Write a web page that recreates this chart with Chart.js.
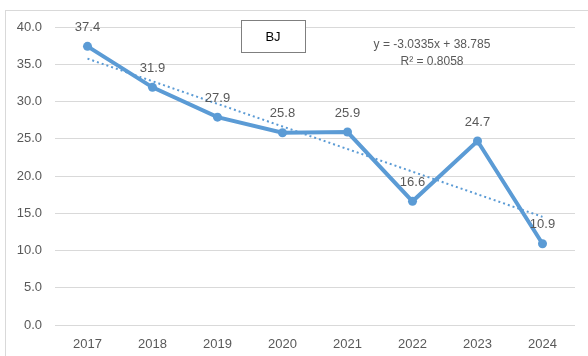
<!DOCTYPE html>
<html>
<head>
<meta charset="utf-8">
<script src="https://cdn.jsdelivr.net/npm/chart.js@4/dist/chart.umd.min.js"></script>
<style>
    html, body { margin: 0; padding: 0; background: #ffffff; }
    #wrap { position: relative; width: 588px; height: 356px; }
</style>
</head>
<body>
<div id="wrap"><canvas id="bj-chart" width="588" height="356"></canvas></div>
<script>
// Yearly values
const years = ['2017', '2018', '2019', '2020', '2021', '2022', '2023', '2024'];
const values = [37.4, 31.9, 27.9, 25.8, 25.9, 16.6, 24.7, 10.9];

// Linear trend: y = slope * x + intercept, x = 1..n
const trendSlope = -3.0335;
const trendIntercept = 38.785;
const trendR2 = 0.8058;
const trendValues = years.map((_, i) => trendSlope * (i + 1) + trendIntercept);

const seriesName = 'BJ';
const FONT = '"Liberation Sans", "DejaVu Sans", sans-serif';
const TEXT_COLOR = '#595959';
const LINE_COLOR = '#5B9BD5';

// Outer frame, title box, equation and point labels
const decorPlugin = {
    id: 'decor',
    beforeDraw(chart) {
        const ctx = chart.ctx;
        ctx.save();
        ctx.strokeStyle = '#d9d9d9';
        ctx.lineWidth = 1;
        ctx.strokeRect(5.5, 10.5, chart.width + 10, chart.height + 10);
        ctx.restore();
    },
    afterDatasetsDraw(chart) {
        const ctx = chart.ctx;
        ctx.save();

        // title box
        ctx.fillStyle = '#ffffff';
        ctx.fillRect(241, 20, 64, 32);
        ctx.strokeStyle = '#7f7f7f';
        ctx.lineWidth = 1;
        ctx.strokeRect(241.5, 20.5, 64, 32);
        ctx.fillStyle = '#000000';
        ctx.font = '13px ' + FONT;
        ctx.textAlign = 'center';
        ctx.textBaseline = 'middle';
        ctx.fillText(seriesName, 273, 37);

        // trend equation
        ctx.fillStyle = TEXT_COLOR;
        ctx.font = '12px ' + FONT;
        const sign = trendIntercept >= 0 ? ' + ' : ' - ';
        ctx.fillText('y = ' + trendSlope.toFixed(4) + 'x' + sign + Math.abs(trendIntercept).toFixed(3), 432, 45);
        ctx.fillText('R\u00B2 = ' + trendR2.toFixed(4), 432, 62);

        // value labels above the points
        const meta = chart.getDatasetMeta(0);
        ctx.font = '13px ' + FONT;
        meta.data.forEach((pt, i) => {
            ctx.fillText(values[i].toFixed(1), pt.x, pt.y - 19);
        });
        ctx.restore();
    }
};

const ctx = document.getElementById('bj-chart').getContext('2d');
new Chart(ctx, {
    type: 'line',
    data: {
        labels: years,
        datasets: [{
            label: seriesName,
            data: values,
            borderColor: LINE_COLOR,
            backgroundColor: LINE_COLOR,
            borderWidth: 4,
            pointRadius: 4.5,
            pointBorderWidth: 0,
            tension: 0,
            order: 1
        }, {
            label: 'Linear (' + seriesName + ')',
            data: trendValues,
            borderColor: LINE_COLOR,
            borderWidth: 2,
            borderDash: [2, 3],
            pointRadius: 0,
            tension: 0,
            order: 2
        }]
    },
    options: {
        responsive: false,
        animation: false,
        layout: {
            padding: { top: 27, right: 13, left: 0, bottom: 0 }
        },
        plugins: {
            legend: { display: false },
            tooltip: { enabled: false }
        },
        scales: {
            x: {
                offset: true,
                grid: { display: false, drawTicks: false },
                border: { display: false },
                ticks: {
                    color: TEXT_COLOR,
                    font: { family: FONT, size: 13 },
                    padding: 12,
                    maxRotation: 0
                },
                afterFit(scale) { scale.height = 31; }
            },
            y: {
                min: 0,
                max: 40,
                grid: { color: '#d9d9d9', lineWidth: 1, drawTicks: false },
                border: { display: false },
                ticks: {
                    stepSize: 5,
                    color: TEXT_COLOR,
                    font: { family: FONT, size: 13 },
                    padding: 13,
                    callback: v => Number(v).toFixed(1)
                },
                afterFit(scale) { scale.width = 55; }
            }
        }
    },
    plugins: [decorPlugin]
});
</script>
</body>
</html>
